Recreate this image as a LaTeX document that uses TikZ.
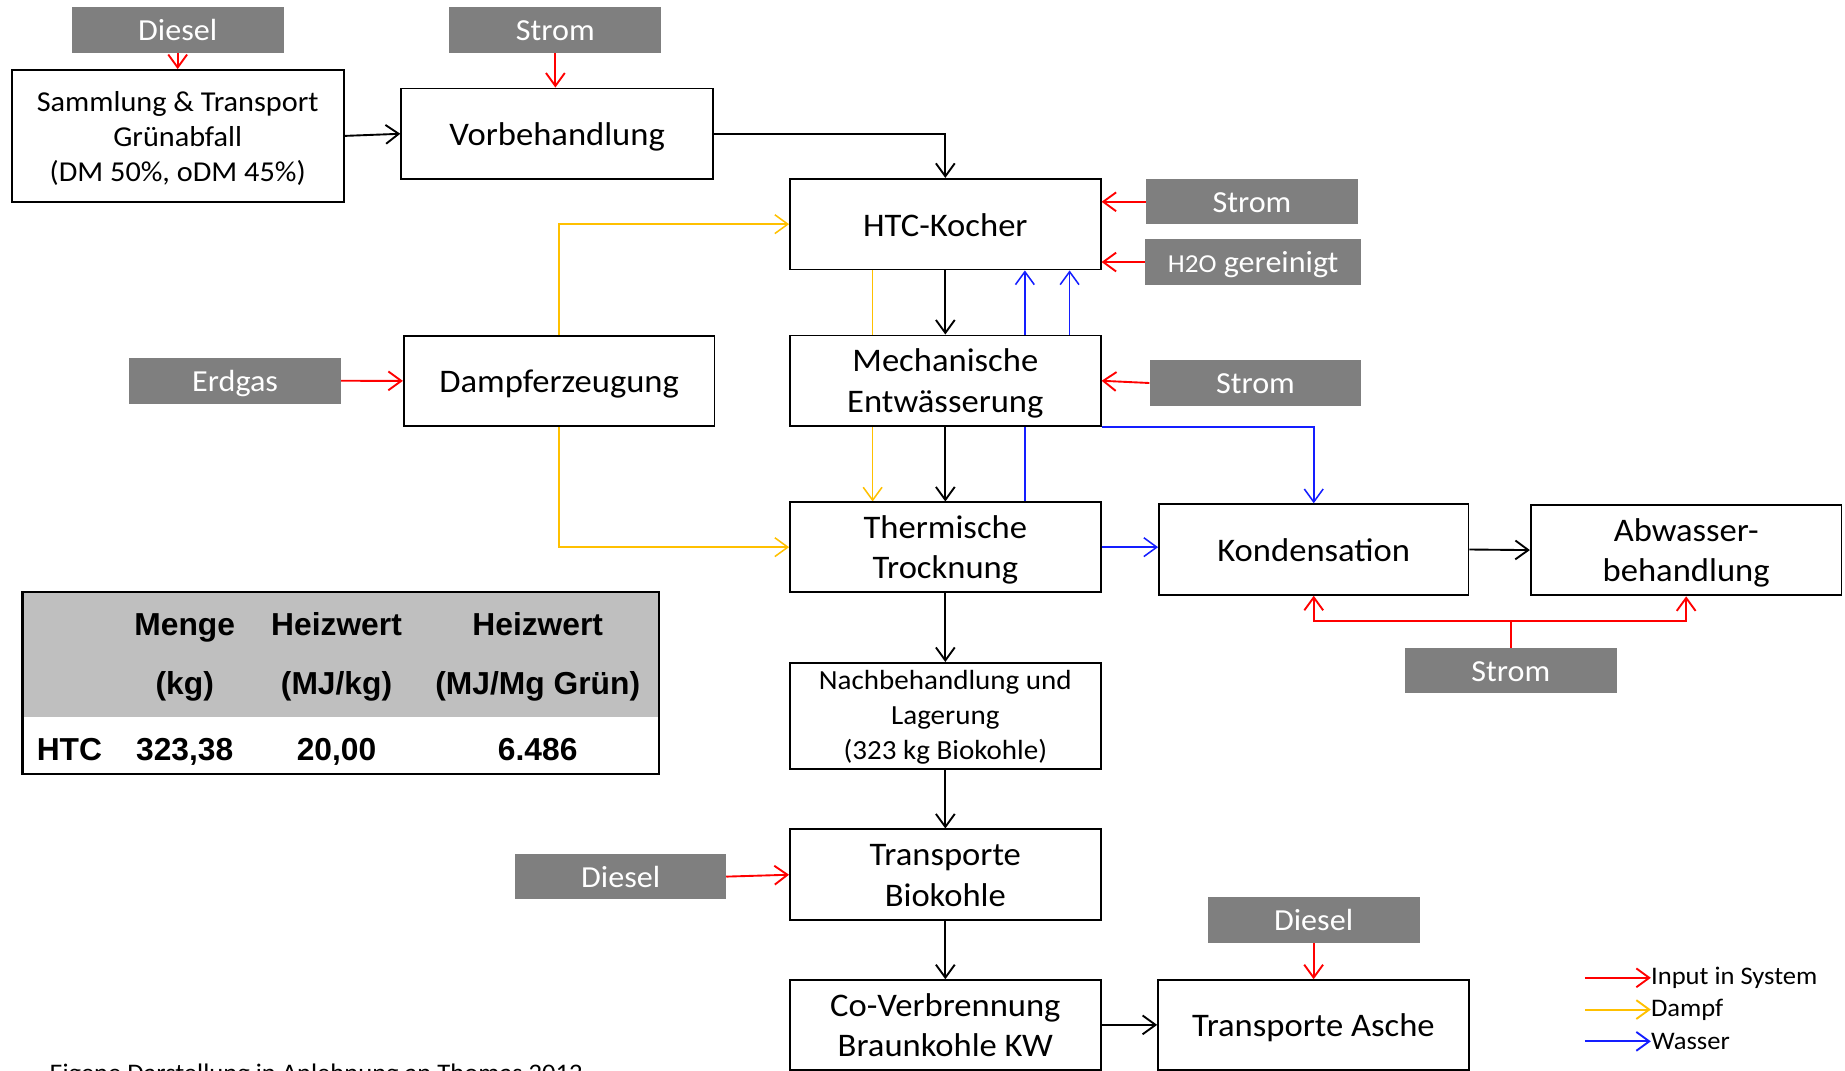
\documentclass[tikz,border=0pt]{standalone}
\usepackage{fontspec}
\setmainfont{Carlito}[FakeStretch=1.05]
\newfontfamily\tabfont{Liberation Sans}
\usetikzlibrary{arrows.meta}
\pgfdeclarelayer{bg}
\pgfsetlayers{bg,main}
\definecolor{inred}{RGB}{255,0,0}
\definecolor{steam}{RGB}{255,192,0}
\definecolor{water}{RGB}{20,30,255}
\definecolor{inputgray}{RGB}{127,127,127}
\definecolor{tabgray}{RGB}{191,191,191}
\newcommand\bigtop{\rule{0pt}{25.3pt}}
\newcommand\bigbot{\rule[-5.8pt]{0pt}{0pt}}
\newcommand\samtop{\rule{0pt}{22.8pt}}
\newcommand\sambot{\rule[-4.8pt]{0pt}{0pt}}
\newcommand\nactop{\rule{0pt}{20pt}}
\newcommand\nacbot{\rule[-5.6pt]{0pt}{0pt}}
\begin{document}
\begin{tikzpicture}[x=1pt,y=-1pt,
  plainbox/.style={draw=black, line width=1.6pt, fill=white, inner sep=0pt, align=center,
    font=\fontsize{28}{34.5}\selectfont, minimum width=264pt, minimum height=77pt},
  box/.style={plainbox,
    execute at begin node={\rule{0pt}{26pt}},
    execute at end node={\rule[-5.8pt]{0pt}{0pt}}},
  multibox/.style={plainbox},
  smallbox/.style={plainbox, font=\fontsize{24.5}{29.5}\selectfont},
  nachbox/.style={plainbox, font=\fontsize{23.5}{30}\selectfont},
  ingray/.style={fill=inputgray, text=white, inner sep=0pt, align=center,
    font=\fontsize{26}{30}\selectfont, minimum width=180pt, minimum height=39pt,
    execute at begin node={\rule{0pt}{22.5pt}},
    execute at end node={\rule[-4.2pt]{0pt}{0pt}}},
  tip/.style={-{Straight Barb[length=11pt,width=16pt]}},
  blk/.style={tip, draw=black, line width=1.6pt},
  redarr/.style={tip, draw=inred, line width=1.6pt},
  redline/.style={draw=inred, line width=1.6pt},
  steamarr/.style={tip, draw=steam, line width=1.3pt},
  waterarr/.style={tip, draw=water, line width=1.3pt},
  tabtxt/.style={inner sep=0pt, anchor=base, font=\tabfont\bfseries\fontsize{27}{30}\selectfont},
  legtxt/.style={inner sep=0pt, anchor=west, font=\fontsize{21.5}{26}\selectfont}
]
\useasboundingbox (0,0) rectangle (1568,910);

% process boxes
\node[smallbox, minimum width=282pt, minimum height=112pt] (samm) at (151,115.5)
  {\samtop Sammlung \& Transport\\Grünabfall\\(DM 50\%, oDM 45\%)\sambot};
\node[box, minimum width=265pt] (vorb) at (473.5,113.7) {Vorbehandlung};
\node[box] (htc) at (803.4,190.5) {HTC-Kocher};
\node[multibox] (mech) at (803.4,323.6) {\bigtop Mechanische\\Entwässerung\bigbot};
\node[box] (dampf) at (475.2,323.7) {Dampferzeugung};
\node[multibox, minimum height=76pt] (therm) at (803.4,465) {\bigtop Thermische\\Trocknung\bigbot};
\node[box, minimum width=263pt] (kond) at (1116.5,467) {Kondensation};
\node[multibox] (abw) at (1433,467.5) {\bigtop Abwasser-\\behandlung\bigbot};
\node[nachbox, minimum height=90pt] (nach) at (803.4,608.4)
  {\nactop Nachbehandlung und\\Lagerung\\(323 kg Biokohle)\nacbot};
\node[multibox] (transbio) at (803.4,743.4) {\bigtop Transporte\\Biokohle\bigbot};
\node[multibox, minimum height=76pt] (cov) at (803.4,871) {\bigtop Co-Verbrennung\\Braunkohle KW\bigbot};
\node[box, minimum height=76pt] (asche) at (1116.2,871) {Transporte Asche};

% input boxes
\node[ingray] (diesel1) at (151,25.5) {Diesel};
\node[ingray] (strom1) at (472,25.5) {Strom};
\node[ingray, minimum height=38pt] (strom2) at (1064,171.5) {Strom};
\node[ingray, minimum width=184pt, minimum height=38.6pt] (hzo) at (1065,222.7)
  {{\fontsize{22}{26}\selectfont H2O} gereinigt};
\node[ingray, minimum height=38.5pt] (strom3) at (1067,325.5) {Strom};
\node[ingray] (erdgas) at (199.8,323.6) {Erdgas};
\node[ingray, minimum height=38pt] (strom4) at (1284,570) {Strom};
\node[ingray, minimum width=179pt, minimum height=38pt] (diesel3) at (527.5,745) {Diesel};
\node[ingray] (diesel4) at (1116.4,781.7) {Diesel};

% helper coordinates
\coordinate (ysx) at (741.6,0);
\coordinate (wx1) at (871,0);
\coordinate (wx2) at (909,0);
\coordinate (junc) at (1284,527.7);

% lines passing behind the dewatering box
\begin{pgfonlayer}{bg}
  \draw[steamarr] (htc.south -| ysx) -- (therm.north -| ysx);
  \draw[waterarr] (therm.north -| wx1) -- (htc.south -| wx1);
\end{pgfonlayer}

% black flow
\draw[blk] (samm.east) -- (vorb.west);
\draw[blk] (vorb.east) -| (htc.north);
\draw[blk] (htc.south) -- (mech.north);
\draw[blk] (mech.south) -- (therm.north);
\draw[blk] (therm.south) -- (nach.north);
\draw[blk] (nach.south) -- (transbio.north);
\draw[blk] (transbio.south) -- (cov.north);
\draw[blk] (cov.east) -- (asche.west);
\draw[blk] (kond.east) -- (abw.west);

% red inputs
\draw[redarr] (diesel1.south) -- (samm.north);
\draw[redarr] (strom1.south) -- (strom1.south |- vorb.north);
\draw[redarr] (strom2.west) -- (strom2.west -| htc.east);
\draw[redarr] (hzo.west) -- (hzo.west -| htc.east);
\draw[redarr] (strom3.west) -- (mech.east);
\draw[redarr] (erdgas.east) -- (dampf.west);
\draw[redarr] (diesel3.east) -- (transbio.west);
\draw[redarr] (diesel4.south) -- (diesel4.south |- asche.north);
\draw[redline] (strom4.north) -- (junc);
\draw[redarr] (junc) -| (kond.south);
\draw[redarr] (junc) -| (abw.south);

% steam
\draw[steamarr] (dampf.north) |- (htc.west);
\draw[steamarr] (dampf.south) |- (therm.west);

% water
\draw[waterarr] (mech.north -| wx2) -- (htc.south -| wx2);
\draw[waterarr] (mech.south east) -| (kond.north);
\draw[waterarr] (therm.east) -- (therm.east -| kond.west);

% table
\fill[tabgray] (19,503) rectangle (560,609);
\node[draw=black, line width=2pt, minimum width=541pt, minimum height=155pt, inner sep=0pt] (tab) at (289.5,580.5) {};
\node[tabtxt] (t12) at (157,540) {Menge};
\node[tabtxt] (t13) at (286,540) {Heizwert};
\node[tabtxt] (t14) at (457,540) {Heizwert};
\node[tabtxt] (t22) at (157,590) {(kg)};
\node[tabtxt] (t23) at (286,590) {(MJ/kg)};
\node[tabtxt] (t24) at (457,590) {(MJ/Mg Grün)};
\node[tabtxt] (t31) at (59,646) {HTC};
\node[tabtxt] (t32) at (157,646) {323,38};
\node[tabtxt] (t33) at (286,646) {20,00};
\node[tabtxt] (t34) at (457,646) {6.486};

% legend
\coordinate (l1s) at (1347,831);
\coordinate (l2s) at (1347,858);
\coordinate (l3s) at (1347,885);
\node[legtxt] (l1) at (1403,831) {Input in System};
\node[legtxt] (l2) at (1403,858) {Dampf};
\node[legtxt] (l3) at (1403,885) {Wasser};
\draw[redarr] (l1s) -- (l1.west);
\draw[steamarr, line width=1.6pt] (l2s) -- (l2.west);
\draw[waterarr, line width=1.6pt] (l3s) -- (l3.west);

% source note (cut off at the bottom edge, as in the original)
\node[inner sep=0pt, anchor=base west, font=\fontsize{21.5}{26}\selectfont] (foot) at (42,918.8)
  {Eigene Darstellung in Anlehnung an Thomas 2012};
\end{tikzpicture}
\end{document}
